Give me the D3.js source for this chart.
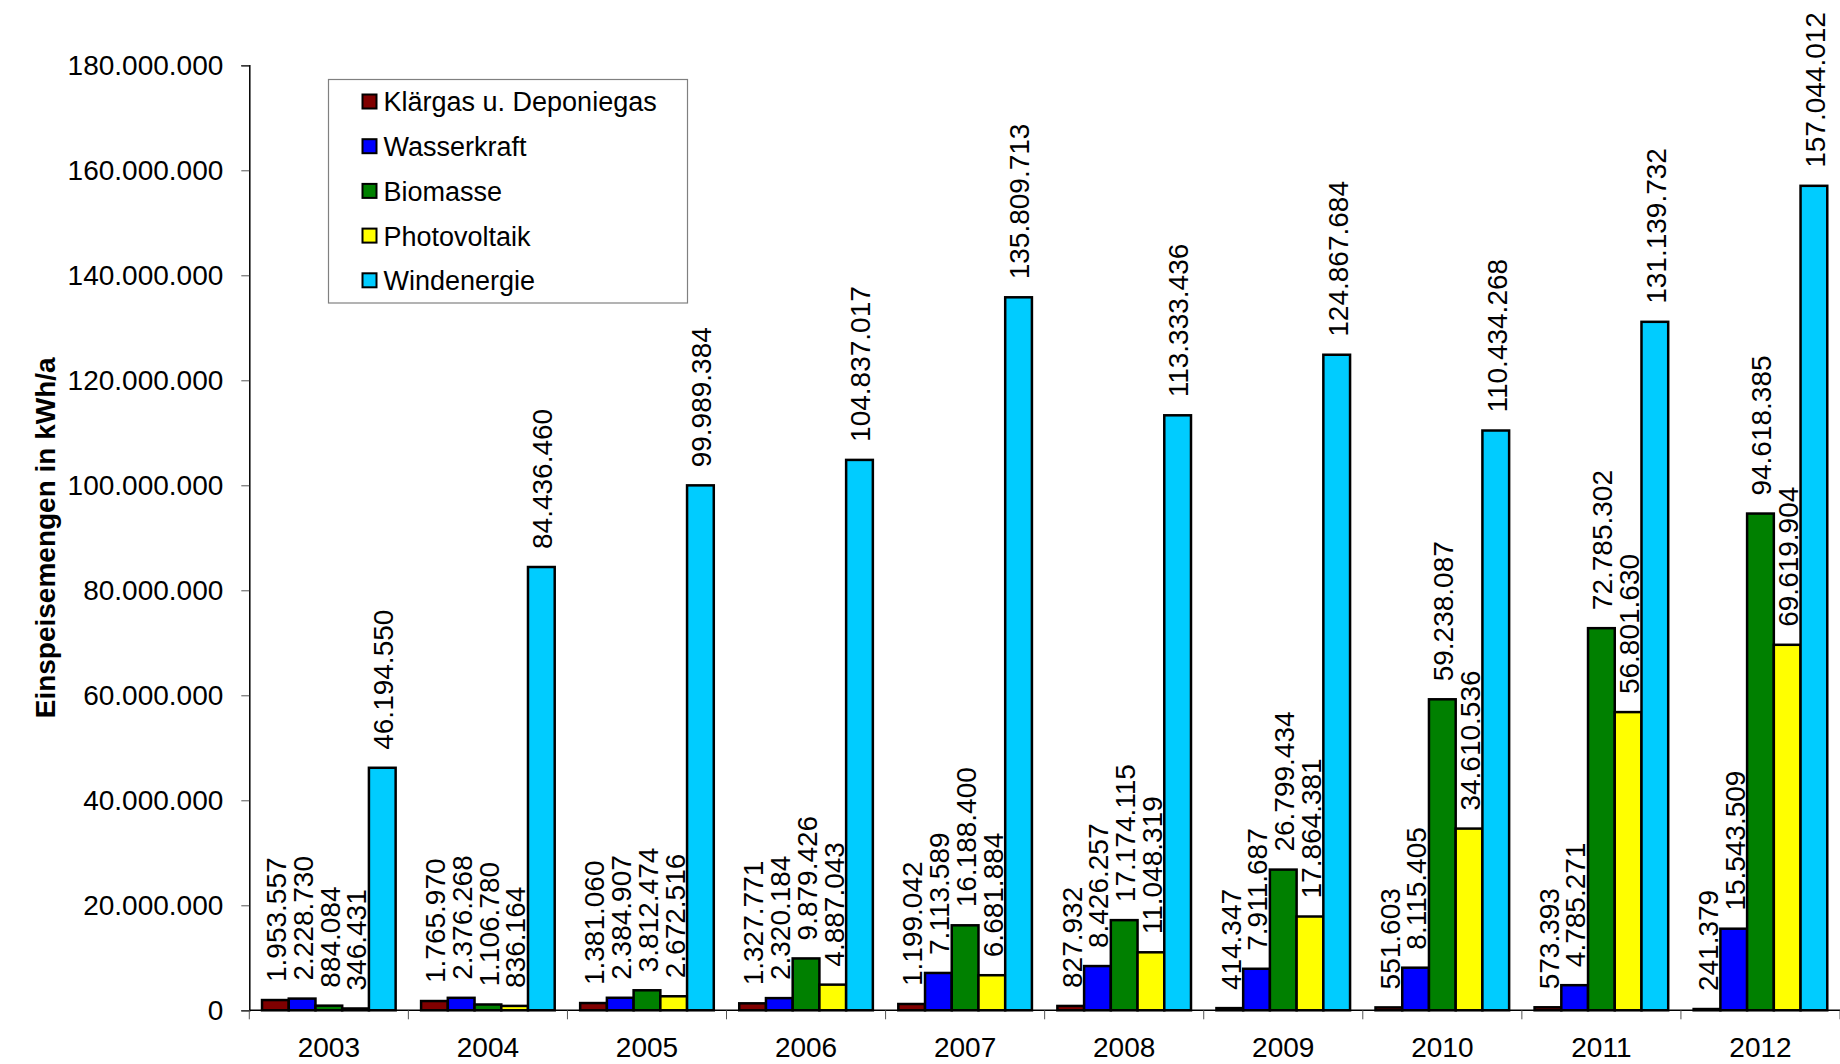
<!DOCTYPE html>
<html>
<head>
<meta charset="utf-8">
<script src="https://cdnjs.cloudflare.com/ajax/libs/d3/7.8.5/d3.min.js"></script>
<style>
  body { margin: 0; background: #fff; }
  text { font-family: "Liberation Sans", Arial, sans-serif; fill: #000; }
</style>
</head>
<body>
<div id="chart"></div>
<script>
const years = ['2003', '2004', '2005', '2006', '2007', '2008', '2009', '2010', '2011', '2012']
const seriesNames = ['Klärgas u. Deponiegas', 'Wasserkraft', 'Biomasse', 'Photovoltaik', 'Windenergie']
const seriesColors = ['#800000', '#0000ff', '#008000', '#ffff00', '#00ccff']

const klaergas = [1953557, 1765970, 1381060, 1327771, 1199042, 827932, 414347, 551603, 573393, 241379]
const wasserkraft = [2228730, 2376268, 2384907, 2320184, 7113589, 8426257, 7911687, 8115405, 4785271, 15543509]
const biomasse = [884084, 1106780, 3812474, 9879426, 16188400, 17174115, 26799434, 59238087, 72785302, 94618385]
const photovoltaik = [346431, 836164, 2672516, 4887043, 6681884, 11048319, 17864381, 34610536, 56801630, 69619904]
const windenergie = [46194550, 84436460, 99989384, 104837017, 135809713, 113333436, 124867684, 110434268, 131139732, 157044012]

const yTicks = [0, 20000000, 40000000, 60000000, 80000000, 100000000, 120000000, 140000000, 160000000, 180000000]

const allSeries = [klaergas, wasserkraft, biomasse, photovoltaik, windenergie]

const W = 1840, H = 1064
const margin = {top: 65.3, right: 0, bottom: 1064 - 1010.3, left: 249.3}

const de = d3.formatLocale({decimal: ',', thousands: '.', grouping: [3], currency: ['', ' €']})
const fmt = de.format(',d')

// flat table for the bars
const rows = []
years.forEach((yr, i) => {
  allSeries.forEach((s, k) => {
    rows.push({year: yr, series: seriesNames[k], k: k, value: s[i]})
  })
})

const svg = d3.select('#chart').append('svg')
  .attr('width', W)
  .attr('height', H)

const x0 = d3.scaleBand()
  .domain(years)
  .range([margin.left, W - margin.right])
  .paddingInner(0.16)
  .paddingOuter(0.08)

const x1 = d3.scaleBand()
  .domain(seriesNames)
  .range([0, x0.bandwidth()])

const y = d3.scaleLinear()
  .domain([0, 180000000])
  .range([H - margin.bottom, margin.top])

// y axis
const yAxis = svg.append('g')
  .attr('transform', 'translate(' + margin.left + ',0)')
  .call(d3.axisLeft(y).tickValues(yTicks).tickFormat(fmt).tickSize(8).tickPadding(18))
yAxis.select('.domain').attr('stroke', '#000').attr('stroke-width', 1.5)
yAxis.selectAll('.tick line').attr('stroke', '#555')
yAxis.selectAll('.tick text')
  .attr('font-size', 28)
  .attr('font-family', '"Liberation Sans", Arial, sans-serif')

// y title
svg.append('text')
  .attr('transform', 'translate(55,' + ((margin.top + H - margin.bottom) / 2) + ') rotate(-90)')
  .attr('text-anchor', 'middle')
  .attr('font-size', 28)
  .attr('font-weight', 'bold')
  .text('Einspeisemengen in kWh/a')

// bars
const groups = svg.append('g').selectAll('g')
  .data(rows)
  .join('g')
  .attr('transform', d => 'translate(' + x0(d.year) + ',0)')

groups.append('rect')
  .attr('x', d => x1(d.series))
  .attr('y', d => y(d.value))
  .attr('width', x1.bandwidth())
  .attr('height', d => y(0) - y(d.value))
  .attr('fill', d => seriesColors[d.k])
  .attr('stroke', '#000')
  .attr('stroke-width', 2.5)

groups.append('text')
  .attr('transform', d => 'translate(' + (x1(d.series) + x1.bandwidth() / 2 + 1) + ',' + (y(d.value) - 18) + ') rotate(-90)')
  .attr('dy', '0.35em')
  .attr('font-size', 28)
  .text(d => fmt(d.value))

// x axis
const xg = svg.append('g')
xg.append('line')
  .attr('x1', margin.left).attr('x2', W - margin.right)
  .attr('y1', y(0)).attr('y2', y(0))
  .attr('stroke', '#000').attr('stroke-width', 1.5)

const seps = years.map(yr => x0(yr) - x0.step() * x0.paddingOuter())
seps.push(W - margin.right)
xg.selectAll('.sep')
  .data(seps)
  .join('line')
  .attr('class', 'sep')
  .attr('x1', d => d).attr('x2', d => d)
  .attr('y1', y(0)).attr('y2', y(0) + 9)
  .attr('stroke', '#555')

xg.selectAll('.yl')
  .data(years)
  .join('text')
  .attr('class', 'yl')
  .attr('x', d => x0(d) + x0.bandwidth() / 2)
  .attr('y', 1057)
  .attr('text-anchor', 'middle')
  .attr('font-size', 28)
  .text(d => d)

// legend
const lg = svg.append('g').attr('transform', 'translate(328.5,79.5)')
lg.append('rect')
  .attr('width', 359)
  .attr('height', 223.5)
  .attr('fill', '#fff')
  .attr('stroke', '#808080')
  .attr('stroke-width', 1.2)

const items = lg.selectAll('.item')
  .data(seriesNames)
  .join('g')
  .attr('class', 'item')
  .attr('transform', (d, i) => 'translate(0,' + (22.5 + i * 44.7) + ')')

items.append('rect')
  .attr('x', 34)
  .attr('y', -7.5)
  .attr('width', 14)
  .attr('height', 14)
  .attr('fill', (d, i) => seriesColors[i])
  .attr('stroke', '#000')
  .attr('stroke-width', 2)

items.append('text')
  .attr('x', 55)
  .attr('dy', '0.35em')
  .attr('font-size', 27)
  .text(d => d)
</script>
</body>
</html>
